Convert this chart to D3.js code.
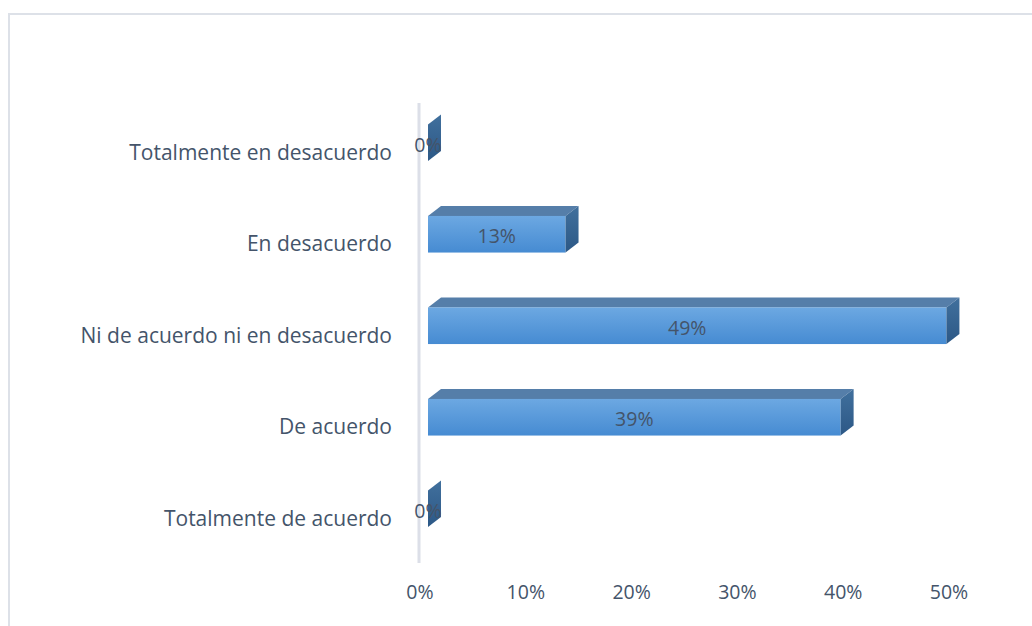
<!DOCTYPE html>
<html>
<head>
<meta charset="utf-8">
<script src="https://cdn.jsdelivr.net/npm/d3@7"></script>
<style>
  body { margin: 0; background: #fff; }
  svg text { font-family: "Open Sans", sans-serif; fill: #44546a; }
</style>
</head>
<body>
<div id="chart"></div>
<script>
// categories top to bottom, as in the picture
const categories = ["Totalmente en desacuerdo", "En desacuerdo", "Ni de acuerdo ni en desacuerdo", "De acuerdo", "Totalmente de acuerdo"];
const values = [0, 0.13, 0.49, 0.39, 0];
const tickValues = [0, 0.1, 0.2, 0.3, 0.4, 0.5];

const width = 1032, height = 626;
const depthX = 13, depthY = -10;   // fake 3d offset
const barShift = 8;                 // front face sits a bit right of the axis
const fontSize = 19.5;

const svg = d3.select("#chart").append("svg")
    .attr("width", width)
    .attr("height", height);

const defs = svg.append("defs");
const gFront = defs.append("linearGradient").attr("id", "front").attr("x1", 0).attr("y1", 0).attr("x2", 0).attr("y2", 1);
gFront.append("stop").attr("offset", "0%").attr("stop-color", "#6ca8e2");
gFront.append("stop").attr("offset", "100%").attr("stop-color", "#468bd2");
const gSide = defs.append("linearGradient").attr("id", "side").attr("x1", 0).attr("y1", 0).attr("x2", 0).attr("y2", 1);
gSide.append("stop").attr("offset", "0%").attr("stop-color", "#41709d");
gSide.append("stop").attr("offset", "100%").attr("stop-color", "#2c5886");

// outer frame
svg.append("rect")
    .attr("x", 9).attr("y", 14)
    .attr("width", 1040).attr("height", 640)
    .attr("fill", "none")
    .attr("stroke", "#dde1e8")
    .attr("stroke-width", 2);

const x = d3.scaleLinear().domain([0, 0.5]).range([420, 949]);
const y = d3.scaleBand().domain(categories).range([97, 554.5]).paddingInner(0.6).paddingOuter(0.3);

// vertical axis line
svg.append("line")
    .attr("x1", 419).attr("x2", 419)
    .attr("y1", 103).attr("y2", 563)
    .attr("stroke", "#dcdfe8")
    .attr("stroke-width", 3);

const bars = svg.append("g").selectAll("g")
    .data(categories.map((c, i) => ({ cat: c, v: values[i] })))
    .join("g");

bars.each(function(d) {
    const g = d3.select(this);
    const x0 = x(0) + barShift;
    const w = x(d.v) - x(0);
    const y0 = y(d.cat), h = y.bandwidth();
    // top face
    if (w > 0) {
        g.append("path")
            .attr("d", `M${x0},${y0} L${x0 + depthX},${y0 + depthY} L${x0 + w + depthX},${y0 + depthY} L${x0 + w},${y0} Z`)
            .attr("fill", "#557ea9");
        g.append("rect")
            .attr("x", x0).attr("y", y0)
            .attr("width", w).attr("height", h)
            .attr("fill", "url(#front)");
    }
    // side face
    g.append("path")
        .attr("d", `M${x0 + w},${y0} L${x0 + w + depthX},${y0 + depthY} L${x0 + w + depthX},${y0 + h + depthY} L${x0 + w},${y0 + h} Z`)
        .attr("fill", "url(#side)");
    // data label
    g.append("text")
        .attr("x", x0 + w / 2)
        .attr("y", y0 + h / 2 + 2)
        .attr("dy", "0.35em")
        .attr("text-anchor", "middle")
        .attr("font-size", fontSize)
        .text(d3.format(".0%")(d.v));
});

// category labels
svg.append("g").selectAll("text")
    .data(categories)
    .join("text")
    .attr("x", 392)
    .attr("y", d => y(d) + y.bandwidth() / 2 + 9.5)
    .attr("dy", "0.35em")
    .attr("text-anchor", "end")
    .attr("font-size", 21)
    .text(d => d);

// x tick labels
svg.append("g").selectAll("text")
    .data(tickValues)
    .join("text")
    .attr("x", d => x(d))
    .attr("y", 592)
    .attr("dy", "0.35em")
    .attr("text-anchor", "middle")
    .attr("font-size", fontSize)
    .text(d => d3.format(".0%")(d));
</script>
</body>
</html>
